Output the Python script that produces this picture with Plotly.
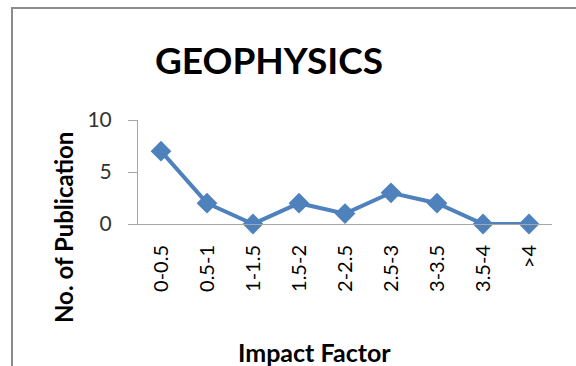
import plotly.graph_objects as go

# Publication counts per impact-factor band
categories = ["0-0.5", "0.5-1", "1-1.5", "1.5-2", "2-2.5", "2.5-3", "3-3.5", "3.5-4", ">4"]
publications = [7, 2, 0, 2, 1, 3, 2, 0, 0]
y_ticks = [0, 5, 10]

W, H = 576, 366
# plot area in pixels
PL, PR, PT, PB = 138, 552, 120, 224


def px_to_paper(x, y):
    return (x - PL) / (PR - PL), (PB - y) / (PB - PT)


FONT = "Lato"
BLUE = "#4F81BD"

fig = go.Figure(
    go.Scatter(
        x=list(range(len(categories))),
        y=publications,
        mode="lines+markers",
        line=dict(color=BLUE, width=4),
        marker=dict(symbol="diamond", size=16, color=BLUE),
        cliponaxis=False,
    )
)

fx0, fy0 = px_to_paper(12, 8)
fx1, fy1 = px_to_paper(W + 10, H + 10)

fig.update_layout(
    width=W,
    height=H,
    margin=dict(l=PL, r=W - PR, t=PT, b=H - PB),
    paper_bgcolor="white",
    plot_bgcolor="white",
    showlegend=False,
    font=dict(family=FONT, color="#000000"),
    xaxis=dict(
        range=[-0.5, len(categories) - 0.5],
        tickmode="array",
        tickvals=list(range(len(categories))),
        ticktext=categories,
        tickangle=-90,
        tickfont=dict(size=20, color="#000000"),
        showgrid=False,
        zeroline=False,
        showline=True,
        linecolor="#A6A6A6",
        linewidth=1,
        ticks="",
        ticklabelstandoff=12,
        fixedrange=True,
    ),
    yaxis=dict(
        range=[0, 10],
        tickmode="array",
        tickvals=y_ticks,
        ticktext=[str(v) for v in y_ticks],
        tickfont=dict(size=21, color="#333333"),
        showgrid=False,
        zeroline=False,
        showline=True,
        linecolor="#A6A6A6",
        linewidth=1,
        ticks="outside",
        ticklen=9,
        tickcolor="#A6A6A6",
        ticklabelstandoff=12,
        fixedrange=True,
    ),
    shapes=[
        dict(
            type="rect",
            xref="paper",
            yref="paper",
            x0=fx0,
            y0=fy1,
            x1=fx1,
            y1=fy0,
            line=dict(color="#8C8C8C", width=2),
            layer="below",
        )
    ],
)

tx, ty = px_to_paper(269, 59)
ax, ay = px_to_paper(314, 352)
yx, yy = px_to_paper(63, 228)
fig.add_annotation(
    x=tx, y=ty, xref="paper", yref="paper", text="<b>GEOPHYSICS</b>",
    showarrow=False, font=dict(size=37, family=FONT, color="#000000"),
    xanchor="center", yanchor="middle",
)
fig.add_annotation(
    x=ax, y=ay, xref="paper", yref="paper", text="<b>Impact Factor</b>",
    showarrow=False, font=dict(size=25, family=FONT, color="#000000"),
    xanchor="center", yanchor="middle",
)
fig.add_annotation(
    x=yx, y=yy, xref="paper", yref="paper", text="<b>No. of Publication</b>",
    showarrow=False, textangle=-90, font=dict(size=24, family=FONT, color="#000000"),
    xanchor="center", yanchor="middle",
)

fig.write_html("out.html")
